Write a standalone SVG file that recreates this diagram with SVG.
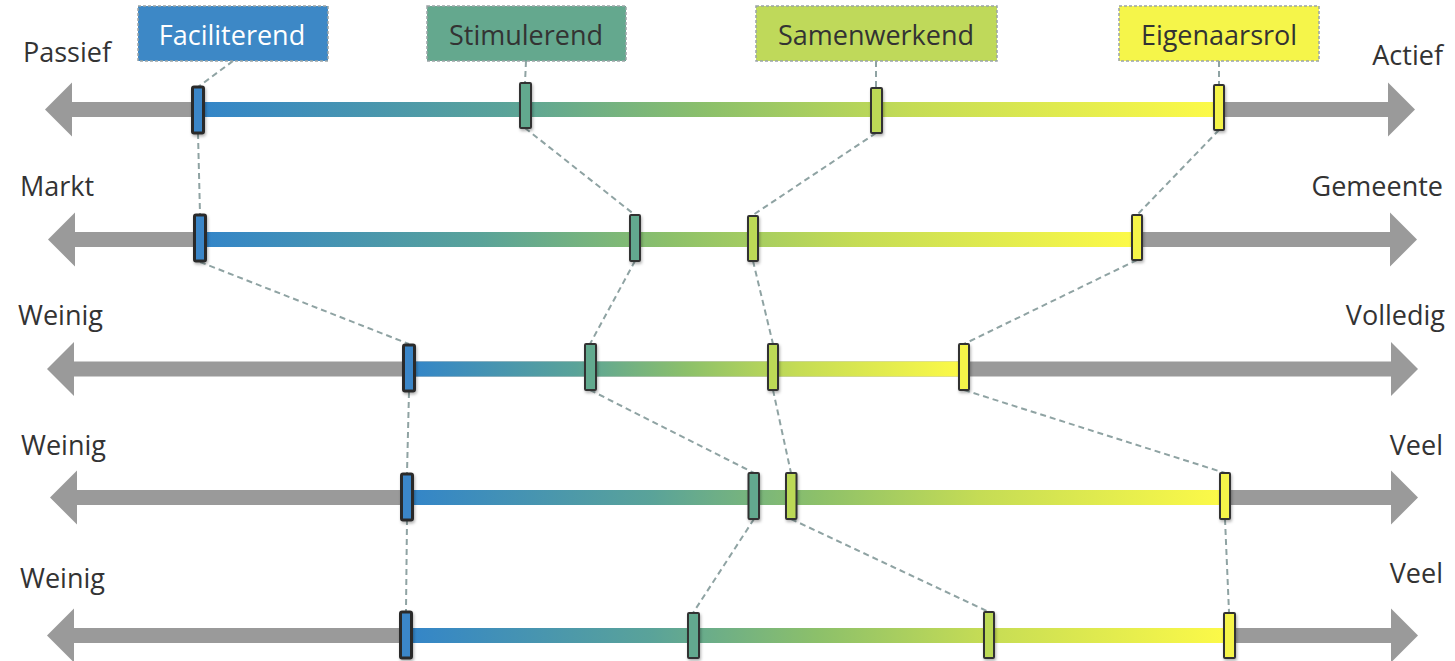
<svg xmlns="http://www.w3.org/2000/svg" width="1455" height="661" viewBox="0 0 1455 661">
<style>
.axis{fill:#9a9a9a}
.bar{fill:url(#grad)}
.lbl{font-family:"Open Sans","Noto Sans",sans-serif;font-size:27px;fill:#333}
.box{stroke:#9aa4a6;stroke-width:1.5;stroke-dasharray:3 2}
.btxt{font-family:"Open Sans","Noto Sans",sans-serif;font-size:27px;text-anchor:middle}
.mk{stroke:#333;stroke-width:2;filter:url(#sh)}
.fac{fill:#3a86c8;stroke:#2b2b2b;stroke-width:3}
.sti{fill:#62a98e}
.sam{fill:#bcd957}
.eig{fill:#f5f44a}
.con{fill:none;stroke:#8fa3a3;stroke-width:2;stroke-dasharray:6 4}
</style>
<defs>
<linearGradient id="grad" x1="0" y1="0" x2="1" y2="0">
<stop offset="0" stop-color="#3385c9"/>
<stop offset="0.3" stop-color="#5aa399"/>
<stop offset="0.5" stop-color="#8cc06a"/>
<stop offset="0.7" stop-color="#c5dc55"/>
<stop offset="1" stop-color="#fdfa48"/>
</linearGradient>
<filter id="sh" x="-50%" y="-20%" width="200%" height="150%">
<feDropShadow dx="1" dy="2" stdDeviation="1.5" flood-color="#000" flood-opacity="0.3"/>
</filter>
</defs>

<g id="connectors">
<path class="con" d="M233 61 L198 87"/>
<path class="con" d="M526 61 L525 83"/>
<path class="con" d="M876 61 L876 88"/>
<path class="con" d="M1219 61 L1219 85"/>
<path class="con" d="M198 133 L200 214"/>
<path class="con" d="M525 128 L635 215"/>
<path class="con" d="M876 133 L753 215"/>
<path class="con" d="M1219 130 L1137 215"/>
<path class="con" d="M200 262 L409 344"/>
<path class="con" d="M635 261 L590 344"/>
<path class="con" d="M753 261 L773 344"/>
<path class="con" d="M1137 260 L964 344"/>
<path class="con" d="M409 392 L407 473"/>
<path class="con" d="M590 390 L754 473"/>
<path class="con" d="M773 390 L791 473"/>
<path class="con" d="M964 390 L1225 473"/>
<path class="con" d="M407 519 L406 611"/>
<path class="con" d="M754 519 L693 613"/>
<path class="con" d="M791 519 L989 612"/>
<path class="con" d="M1225 519 L1229 612"/>
</g>

<g id="row1">
<path class="axis" d="M45 109.5 L72 82.5 L72 102 L1388 102 L1388 82.5 L1415 109.5 L1388 136.5 L1388 117 L72 117 L72 136.5 Z"/>
<rect class="bar" x="198" y="102" width="1021" height="15"/>
<text class="lbl" x="23" y="62">Passief</text>
<text class="lbl" x="1443" y="65" text-anchor="end">Actief</text>
</g>
<g id="row2">
<path class="axis" d="M48 239.5 L75 212.5 L75 232 L1390 232 L1390 212.5 L1417 239.5 L1390 266.5 L1390 247 L75 247 L75 266.5 Z"/>
<rect class="bar" x="200" y="232" width="937" height="15"/>
<text class="lbl" x="20" y="196">Markt</text>
<text class="lbl" x="1443" y="196" text-anchor="end">Gemeente</text>
</g>
<g id="row3">
<path class="axis" d="M47 369 L74 342 L74 361.5 L1391 361.5 L1391 342 L1418 369 L1391 396 L1391 376.5 L74 376.5 L74 396 Z"/>
<rect class="bar" x="409" y="361.5" width="555" height="15"/>
<text class="lbl" x="18" y="325">Weinig</text>
<text class="lbl" x="1445" y="325" text-anchor="end">Volledig</text>
</g>
<g id="row4">
<path class="axis" d="M50 497.5 L77 470.5 L77 490 L1391 490 L1391 470.5 L1418 497.5 L1391 524.5 L1391 505 L77 505 L77 524.5 Z"/>
<rect class="bar" x="407" y="490" width="818" height="15"/>
<text class="lbl" x="21" y="455">Weinig</text>
<text class="lbl" x="1443" y="455" text-anchor="end">Veel</text>
</g>
<g id="row5">
<path class="axis" d="M47 635.5 L74 608.5 L74 628 L1391 628 L1391 608.5 L1418 635.5 L1391 662.5 L1391 643 L74 643 L74 662.5 Z"/>
<rect class="bar" x="406" y="628" width="823" height="15"/>
<text class="lbl" x="20" y="588">Weinig</text>
<text class="lbl" x="1443" y="583" text-anchor="end">Veel</text>
</g>

<g id="faciliterend">
<rect class="box" x="138" y="6" width="190" height="55" fill="#3d88c6"/>
<text class="btxt" x="232" y="45" fill="#fff">Faciliterend</text>
<rect class="mk fac" x="192.5" y="87" width="11" height="46" rx="1.5"/>
<rect class="mk fac" x="194.5" y="215" width="11" height="46" rx="1.5"/>
<rect class="mk fac" x="403.5" y="345" width="11" height="46" rx="1.5"/>
<rect class="mk fac" x="401.5" y="474" width="11" height="46" rx="1.5"/>
<rect class="mk fac" x="400.5" y="612" width="11" height="46" rx="1.5"/>
</g>
<g id="stimulerend">
<rect class="box" x="427" y="6" width="199" height="55" fill="#64a88e"/>
<text class="btxt" x="526" y="45" fill="#333">Stimulerend</text>
<rect class="mk sti" x="520" y="83" width="11" height="45" rx="1"/>
<rect class="mk sti" x="630" y="215" width="10" height="46" rx="1"/>
<rect class="mk sti" x="585" y="344" width="11" height="46" rx="1"/>
<rect class="mk sti" x="748.5" y="473" width="10.5" height="46" rx="1"/>
<rect class="mk sti" x="688" y="613" width="11" height="45" rx="1"/>
</g>
<g id="samenwerkend">
<rect class="box" x="756" y="6" width="241" height="55" fill="#bfd95a"/>
<text class="btxt" x="876" y="45" fill="#333">Samenwerkend</text>
<rect class="mk sam" x="871" y="88" width="11" height="45" rx="1"/>
<rect class="mk sam" x="748" y="216" width="10" height="45" rx="1"/>
<rect class="mk sam" x="768" y="344" width="10" height="46" rx="1"/>
<rect class="mk sam" x="786" y="473" width="10.5" height="46" rx="1"/>
<rect class="mk sam" x="984" y="612" width="10" height="46" rx="1"/>
</g>
<g id="eigenaarsrol">
<rect class="box" x="1119" y="6" width="200" height="55" fill="#f5f54a"/>
<text class="btxt" x="1219" y="45" fill="#333">Eigenaarsrol</text>
<rect class="mk eig" x="1214" y="85" width="10" height="45" rx="1"/>
<rect class="mk eig" x="1132" y="215" width="10" height="45" rx="1"/>
<rect class="mk eig" x="959" y="344" width="10" height="46" rx="1"/>
<rect class="mk eig" x="1220" y="473" width="10" height="46" rx="1"/>
<rect class="mk eig" x="1224" y="613" width="11" height="45" rx="1"/>
</g>
</svg>
